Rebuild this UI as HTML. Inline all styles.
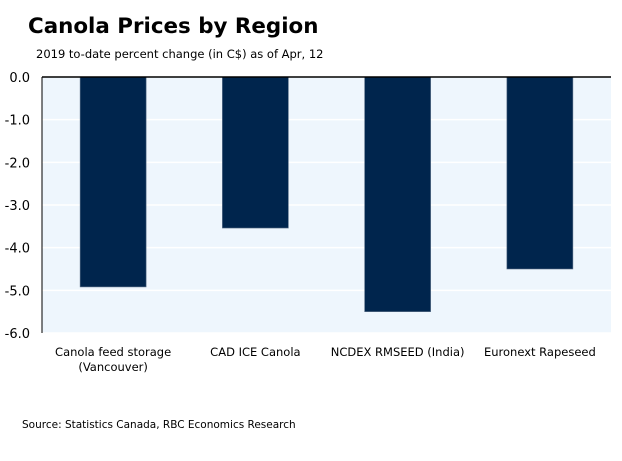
<!DOCTYPE html>
<html><head><meta charset="utf-8"><style>
body{margin:0;background:#fff;width:622px;height:457px;overflow:hidden;font-family:"DejaVu Sans","Liberation Sans",sans-serif;}
</style></head><body>
<svg width="622" height="457">
<text x="28" y="33" font-family="DejaVu Sans, sans-serif" font-weight="bold" font-size="21.4" fill="#000">Canola Prices by Region</text>
<text x="36" y="58" font-size="11.5" fill="#000">2019 to-date percent change (in C$) as of Apr, 12</text>
<g id="plot"></g>
<text x="22" y="428" font-size="10.5" fill="#000">Source: Statistics Canada, RBC Economics Research</text>
</svg>
<script>
const categories=[["Canola feed storage","(Vancouver)"],["CAD ICE Canola"],["NCDEX RMSEED (India)"],["Euronext Rapeseed"]];
const values=[-4.92,-3.54,-5.5,-4.5];
const ticks=[0,-1,-2,-3,-4,-5,-6];
const tickLabels=["0.0","-1.0","-2.0","-3.0","-4.0","-5.0","-6.0"];
const L=42,R=611,T=77,B=333;
const y=v=>T+(0-v)/6*(B-T);
const band=(R-L)/categories.length;
const x=i=>L+band*i+band/2;
const ns="http://www.w3.org/2000/svg";
const g=document.getElementById('plot');
function mk(t,a){const e=document.createElementNS(ns,t);for(const k in a)e.setAttribute(k,a[k]);g.appendChild(e);return e;}
let bg=mk('rect',{x:L,y:T,width:R-L,height:B-T,fill:'#eef6fd'});


ticks.forEach((t,i)=>{
  if(i>0){let l=mk('line',{x1:L,x2:R,y1:y(t),y2:y(t),stroke:'#fff','stroke-width':1.5});
  
  }
  let tx=mk('text',{x:30,y:y(t)+5,'text-anchor':'end','font-size':13,fill:'#000'});
  tx.textContent=tickLabels[i];
  
  
});
values.forEach((v,i)=>{
  let r=mk('rect',{x:x(i)-33,y:y(0),width:66,height:y(v)-y(0),fill:'#00254d',stroke:'#5a6f88','stroke-width':0.6});
  
  
  categories[i].forEach((s,j)=>{
    let t=mk('text',{x:x(i),y:356+j*15,'text-anchor':'middle','font-size':11.5,fill:'#000'});
    t.textContent=s;
    
    
  });
});
let ax=mk('line',{x1:L,x2:R,y1:T,y2:T,stroke:'#000','stroke-width':1.5});


let ay=mk('line',{x1:L,x2:L,y1:T,y2:B,stroke:'#000','stroke-width':1});


</script>
</body></html>
